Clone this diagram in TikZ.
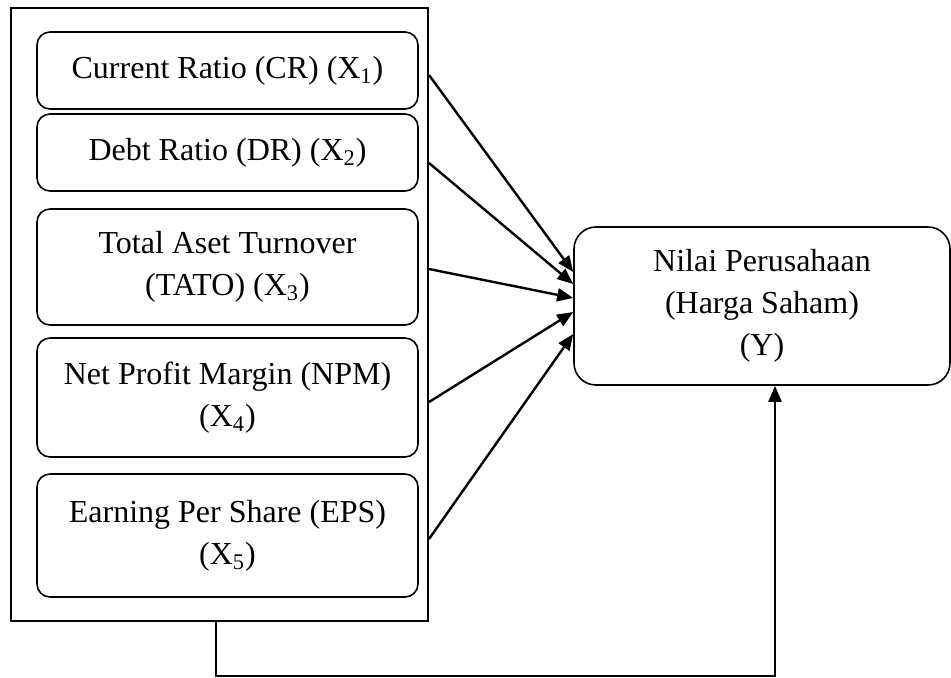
\documentclass[tikz,border=0pt]{standalone}
\usepackage{fontspec}
\setmainfont{Liberation Serif}
\usetikzlibrary{arrows.meta}

\tikzset{
    var/.style={draw, line width=0.8pt, rounded corners=6.5pt, minimum width=190.5pt,
        align=center, inner sep=2pt, font=\fontsize{16}{21}\selectfont},
    arrow/.style={->, line width=1.2pt},
}

\begin{document}
\begin{tikzpicture}[x=0.5pt, y=-0.5pt, >={Triangle[length=8pt,width=6.5pt]}]
        \useasboundingbox (0,0) rectangle (951,677);
        % independent variables
        \node[draw, line width=1pt, minimum width=208.5pt, minimum height=306.5pt] (group) at (219.5,314.5) {};
        \node[var, minimum height=38.5pt] (cr) at (227.5,70.5) {Current Ratio (CR) (X\textsubscript{1})};
        \node[var, minimum height=38.5pt] (dr) at (227.5,152.5) {Debt Ratio (DR) (X\textsubscript{2})};
        \node[var, minimum height=58pt] (tato) at (227.5,267) {Total Aset Turnover\\(TATO) (X\textsubscript{3})};
        \node[var, minimum height=59.5pt] (npm) at (227.5,397.5) {Net Profit Margin (NPM)\\(X\textsubscript{4})};
        \node[var, minimum height=61.5pt] (eps) at (227.5,535.5) {Earning Per Share (EPS)\\(X\textsubscript{5})};
        % dependent variable
        \node[var, rounded corners=11pt, minimum width=188pt, minimum height=79pt] (nilai) at (762,306) {Nilai Perusahaan\\(Harga Saham)\\(Y)};

        \draw[arrow] (group.east |- cr) ++(0,4.5) -- ([yshift=17pt]nilai.west);
        \draw[arrow] (group.east |- dr) ++(0,10.5) -- ([yshift=11pt]nilai.west);
        \draw[arrow] (group.east |- tato) ++(0,2) -- ([yshift=4pt]nilai.west);
        \draw[arrow] (group.east |- npm) ++(0,4.5) -- ([yshift=-3pt]nilai.west);
        \draw[arrow] (group.east |- eps) ++(0,3.5) -- ([yshift=-14pt]nilai.west);
        \draw[arrow] (group.south) ++(-3.5,0) -- ++(0,54) -| ([xshift=6.5pt]nilai.south);
    \end{tikzpicture}
\end{document}
